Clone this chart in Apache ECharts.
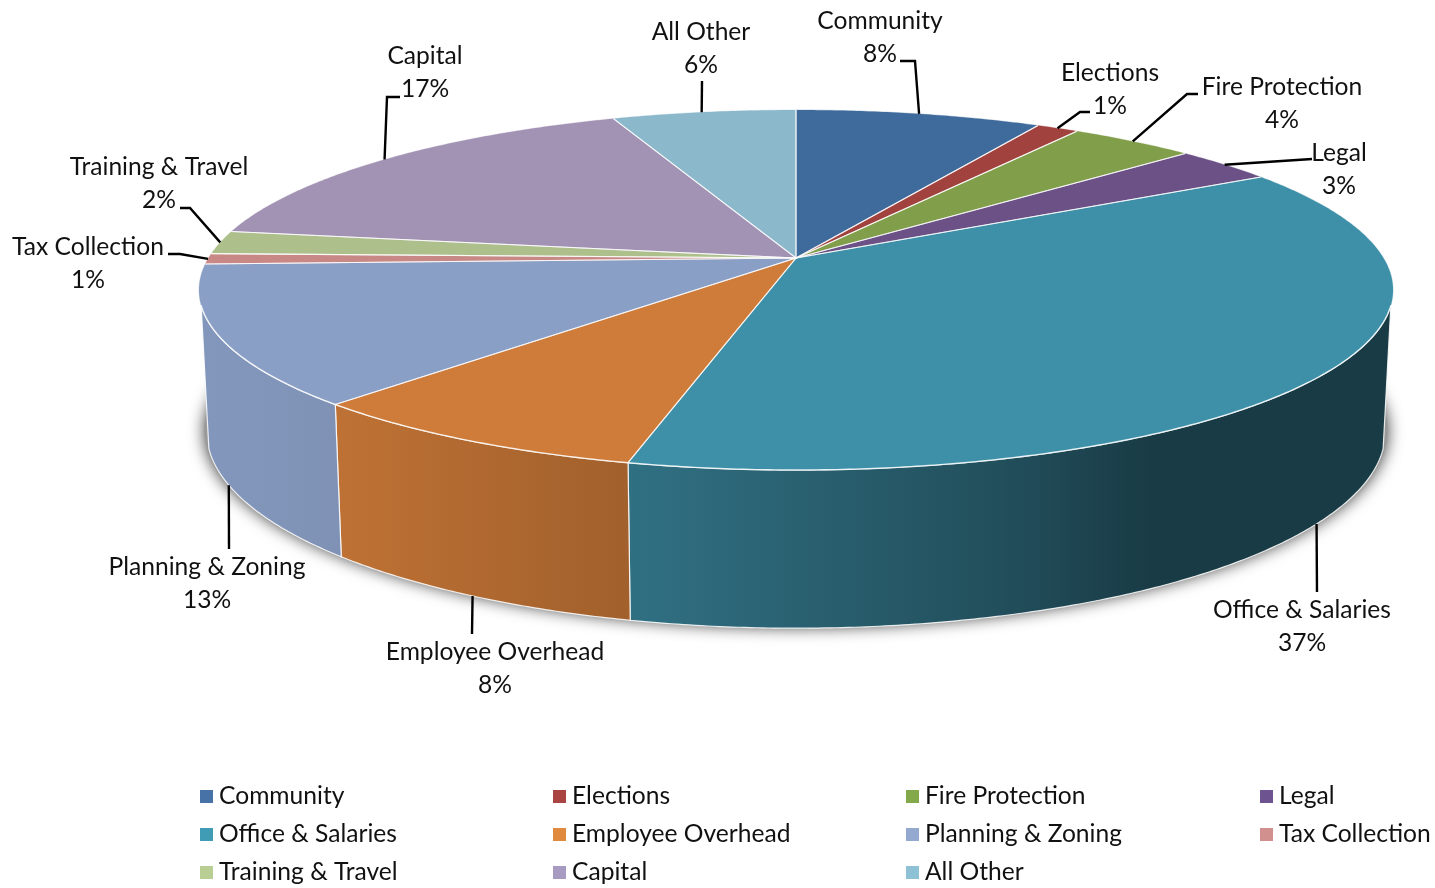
<!DOCTYPE html>
<html>
<head>
<meta charset="utf-8">
<style>html,body{margin:0;padding:0;background:#fff}#chart{width:1435px;height:888px}</style>
<script src="https://cdn.jsdelivr.net/npm/echarts@6/dist/echarts.min.js"></script>
</head>
<body>
<div id="chart"></div>
<script>
// Budget shares by department, in percent
var categories = ['Community','Elections','Fire Protection','Legal','Office & Salaries','Employee Overhead','Planning & Zoning','Tax Collection','Training & Travel','Capital','All Other'];
var shares = [7.9, 1.35, 4.05, 3.25, 37.25, 8.15, 12.5, 0.95, 2.1, 16.6, 5.9];

// Surface and legend colours
var topColors = ['#3f6b9c','#a1423f','#819e4a','#6b5186','#3e90a8','#cf7b39','#8a9fc6','#c88886','#adc08c','#a292b3','#8bb8cb'];
var legendColors = ['#4672a8','#a94442','#84a94a','#6d5490','#3f9cb4','#e08a40','#93a9d0','#d18f8d','#b9ce93','#a89bc1','#8fc1d6'];

// Label placement: centre x, first-line y, the leader's elbow points, and a small angular nudge of its foot
var labelLayout = [
  {x:880,  y:21,  elbow:[[915,61],[900,61]]},
  {x:1110, y:73,  elbow:[[1080,112],[1090,112]]},
  {x:1282, y:87,  elbow:[[1187,94],[1198,94]]},
  {x:1339, y:153, elbow:[[1312,159]]},
  {x:1302, y:610, elbow:[[1317,592]], low:true},
  {x:495,  y:652, elbow:[[472,634]], low:true, nudge:-0.3},
  {x:207,  y:567, elbow:[[229,549]], low:true, nudge:-0.87},
  {x:88,   y:247, elbow:[[180,254],[168,254]]},
  {x:159,  y:167, elbow:[[190,208],[180,208]]},
  {x:425,  y:56,  elbow:[[387,97],[400,97]]},
  {x:701,  y:32,  elbow:[[702,81]], nudge:-0.25}
];

// Perspective projection of the disc: apex, radii and depth foreshortening
var apexX = 796, apexY = 258, radiusX = 587.5, radiusY = 174.3, depth = 0.1778;
// Lower rim relative to the upper rim
var baseScaleX = 0.987, baseScaleY = 1.09, baseShift = 115.9;
var wallFrom = 105, wallTo = 255;
var FONT = '24.6px Lato, sans-serif';

function rimPoint(deg) {
  var t = deg * Math.PI / 180, w = 1 + depth * Math.cos(t);
  return [apexX + radiusX * Math.sin(t) / w, apexY - radiusY * Math.cos(t) / w];
}
function basePoint(deg) {
  var p = rimPoint(deg);
  return [apexX + (p[0] - apexX) * baseScaleX, p[1] * baseScaleY + baseShift];
}
function shadowPoint(deg) {
  var p = basePoint(deg);
  return [apexX + (p[0] - apexX) * 1.004, p[1] - 2];
}
function arc(fn, a, b) {
  var pts = [], n = Math.max(2, Math.ceil(Math.abs(b - a) * 2));
  for (var i = 0; i <= n; i++) pts.push(fn(a + (b - a) * i / n));
  return pts;
}
function shade(hex, f) {
  var r = parseInt(hex.slice(1,3),16), g = parseInt(hex.slice(3,5),16), b = parseInt(hex.slice(5,7),16);
  return 'rgb(' + Math.round(r*f) + ',' + Math.round(g*f) + ',' + Math.round(b*f) + ')';
}
// Side walls darken from left to right across the whole disc
var wallStops = [[0,0.95],[0.12,0.92],[0.36,0.78],[0.67,0.55],[0.8,0.41],[1,0.41]];
function wallFill(hex) {
  return {type:'linear', x:200, y:0, x2:1393, y2:0, global:true,
    colorStops: wallStops.map(function (s) { return {offset:s[0], color:shade(hex, s[1])}; })};
}

function renderSlice(params, api) {
  var i = params.seriesIndex - 1;
  var a = api.value(0) * 3.6, b = api.value(1) * 3.6, mid = (a + b) / 2;
  var kids = [];

  var lo = Math.max(a, wallFrom), hi = Math.min(b, wallTo);
  if (hi > lo) {
    kids.push({type:'polygon', z2:1,
      shape:{points: arc(rimPoint, lo, hi).concat(arc(basePoint, hi, lo))},
      style:{fill:wallFill(topColors[i]), stroke:'rgba(255,255,255,0.85)', lineWidth:1.2}});
  }
  kids.push({type:'polygon', z2:2,
    shape:{points: [[apexX, apexY]].concat(arc(rimPoint, a, b))},
    style:{fill:topColors[i], stroke:topColors[i], lineWidth:0.3}});
  kids.push({type:'polyline', z2:3,
    shape:{points: [rimPoint(a), [apexX, apexY], rimPoint(b)]},
    style:{fill:null, stroke:'rgba(255,255,255,0.72)', lineWidth:1.1}});
  if (hi > lo) {
    kids.push({type:'polyline', z2:3,
      shape:{points: arc(rimPoint, lo, hi)},
      style:{fill:null, stroke:'rgba(255,255,255,0.85)', lineWidth:1.4}});
  }

  // Leader runs from the slice's mid-angle on the visible rim
  var layout = labelLayout[i];
  var footAngle = mid + (layout.nudge || 0);
  var anchor = layout.low ? basePoint(footAngle) : rimPoint(footAngle);
  kids.push({type:'polyline', z2:4,
    shape:{points: [anchor].concat(layout.elbow)},
    style:{fill:null, stroke:'#000', lineWidth:2.4, lineJoin:'miter'}});
  kids.push({type:'text', z2:5,
    style:{text:categories[i], x:layout.x, y:layout.y, align:'center', verticalAlign:'middle', font:FONT, fill:'#111'}});
  kids.push({type:'text', z2:5,
    style:{text:Math.round(api.value(2)) + '%', x:layout.x, y:layout.y + 33, align:'center', verticalAlign:'middle', font:FONT, fill:'#111'}});
  return {type:'group', children:kids};
}

// Soft shadow thrown by the lower rim
function renderShadow() {
  return {type:'polygon', z2:0,
    shape:{points: arc(shadowPoint, 0, 360)},
    style:{fill:'#999', shadowBlur:16, shadowColor:'rgba(0,0,0,0.75)', shadowOffsetY:1}};
}

var series = [{type:'custom', name:'shadow', coordinateSystem:'none', silent:true, data:[[0]], renderItem:renderShadow, animation:false}];
var running = 0;
categories.forEach(function (name, i) {
  series.push({
    type:'custom', name:name, coordinateSystem:'none', animation:false,
    itemStyle:{color:legendColors[i]},
    data:[[running, running + shares[i], shares[i]]],
    renderItem:renderSlice
  });
  running += shares[i];
});

var legendColumns = [
  {left:200, names:['Community','Office & Salaries','Training & Travel']},
  {left:553, names:['Elections','Employee Overhead','Capital']},
  {left:906, names:['Fire Protection','Planning & Zoning','All Other']},
  {left:1260, names:['Legal','Tax Collection']}
];

var chart = echarts.init(document.getElementById('chart'), null, {renderer:'canvas'});
chart.setOption({
  animation:false,
  backgroundColor:'#fff',
  legend: legendColumns.map(function (c) {
    return {orient:'vertical', left:c.left, top:784, height:104, padding:0, data:c.names, icon:'rect',
      itemWidth:13, itemHeight:13, itemGap:13, selectedMode:false,
      textStyle:{fontFamily:'Lato', fontSize:24.6, color:'#111', padding:[0,0,0,1], lineHeight:25}};
  }),
  series: series
});
</script>
</body>
</html>
